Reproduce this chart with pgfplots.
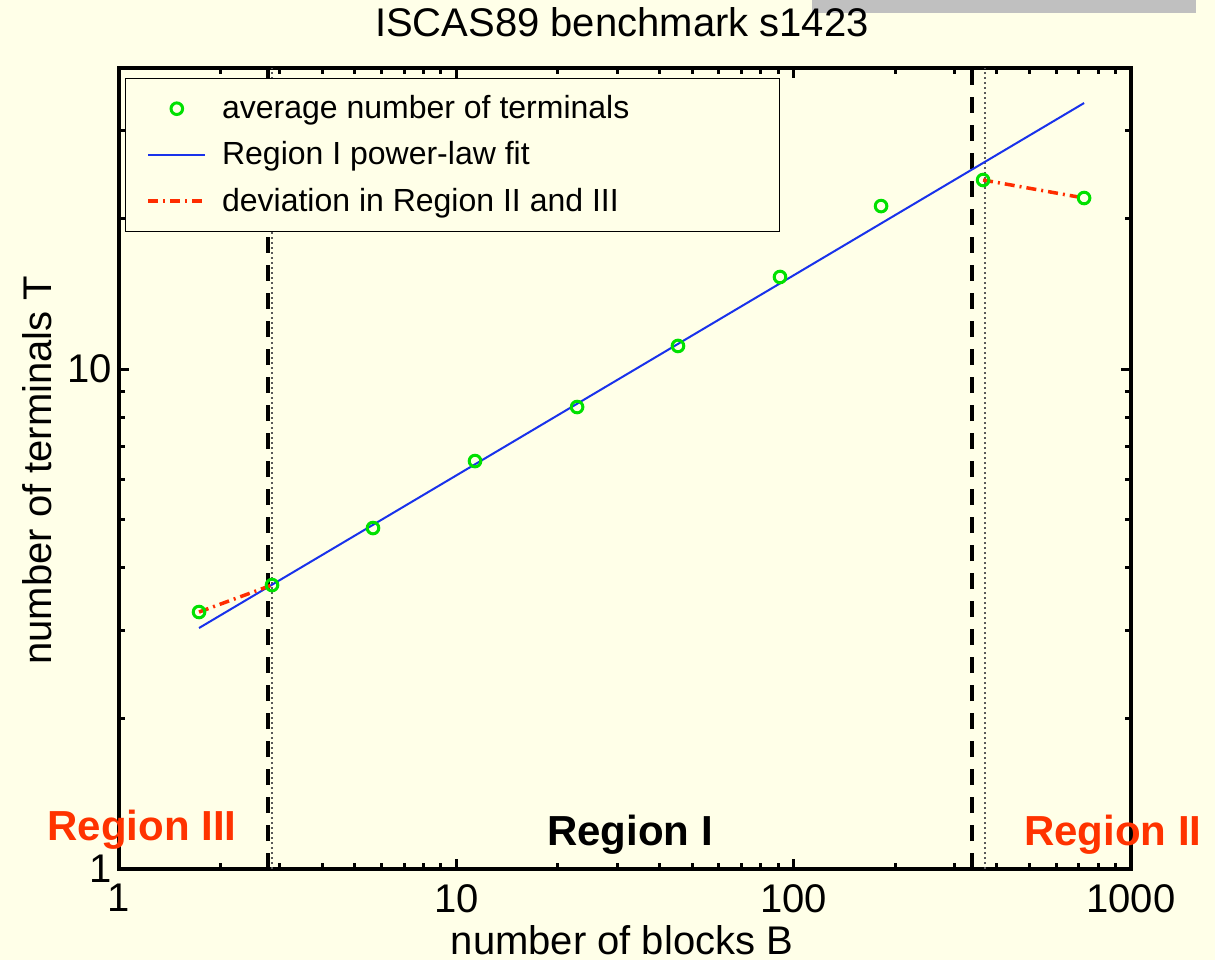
\documentclass[border=0pt]{standalone}
\usepackage{fontspec}
\setmainfont{Liberation Sans}
\usepackage{pgfplots}
\pgfplotsset{compat=1.18}
\definecolor{bgc}{RGB}{255,255,232}
\definecolor{graybar}{RGB}{192,192,192}
\definecolor{ptgreen}{RGB}{0,225,0}
\definecolor{fitblue}{RGB}{25,50,235}
\definecolor{devred}{RGB}{255,45,0}
\definecolor{regred}{RGB}{255,51,0}
\begin{document}
\begin{tikzpicture}[x=1pt,y=1pt]
\fill[bgc] (0,0) rectangle (607.5,480);
\fill[graybar] (406,473.5) rectangle (598,480);
\begin{axis}[
  at={(59.5pt,45.5pt)}, anchor=south west,
  scale only axis, width=506pt, height=400.5pt,
  xmode=log, ymode=log, xmin=1, xmax=1000, ymin=1, ymax=40,
  xtick={1,10,100,1000}, xticklabels={1,10,100,1000},
  ytick={1,10}, yticklabels={1,10},
  minor xtick={2,3,4,5,6,7,8,9,20,30,40,50,60,70,80,90,200,300,400,500,600,700,800,900},
  minor ytick={2,3,4,5,6,7,8,9,20,30},
  xtick pos=both, ytick pos=both,
  xticklabel pos=lower, yticklabel pos=left,
  tick align=inside,
  major tick length=5pt, minor tick length=3pt,
  every tick/.style={black, line width=1.5pt},
  axis line style={line width=2pt},
  tick label style={font=\fontsize{20}{24}\selectfont},
  xticklabel style={yshift=-4pt},
  /pgf/number format/assume math mode=true,
  every axis title shift=0pt,
  title={ISCAS89 benchmark s1423},
  title style={at={(axis description cs:0.497,1.0574)}, anchor=center, font=\fontsize{20}{24}\selectfont},
  xlabel={number of blocks B},
  xlabel style={at={(axis description cs:0.497,-0.0886)}, anchor=center, font=\fontsize{20}{24}\selectfont},
  ylabel={number of terminals T},
  ylabel style={at={(axis description cs:-0.081,0.498)}, anchor=center, font=\fontsize{20}{24}\selectfont},
  clip=false,
  legend image code/.code={\draw[mark repeat=2,mark phase=2,#1] plot coordinates {(0pt,0pt) (14.25pt,0pt) (28.5pt,0pt)};},
  legend style={at={(axis description cs:0.0059,0.9875)}, anchor=north west,
    draw=black, line width=0.6pt, fill=bgc,
    font=\fontsize{16}{19}\selectfont, row sep=6pt, column sep=5.5pt, inner xsep=10.5pt, inner ysep=6.5pt},
  legend cell align=left,
]
% legend entries
\addlegendimage{only marks, mark=o, mark size=2.9pt, mark options={draw=ptgreen, line width=1.5pt}}
\addlegendentry{average number of terminals\rule{62.5pt}{0pt}}
\addlegendimage{fitblue, line width=1pt}
\addlegendentry{Region I power-law fit}
\addlegendimage{devred, line width=1.75pt, dash pattern=on 5pt off 2.5pt on 1pt off 2.5pt}
\addlegendentry{deviation in Region II and III}

% vertical region boundaries
\addplot[forget plot, black, line width=2pt, dash pattern=on 8pt off 6pt] coordinates {(2.766,1) (2.766,40)};
\addplot[forget plot, black!65, line width=1.2pt, dash pattern=on 1pt off 1.5pt] coordinates {(2.842,1) (2.842,40)};
\addplot[forget plot, black, line width=2pt, dash pattern=on 8pt off 6pt] coordinates {(338,1) (338,40)};
\addplot[forget plot, black!65, line width=1.2pt, dash pattern=on 1pt off 1.5pt] coordinates {(369,1) (369,40)};

% power-law fit
\addplot[forget plot, fitblue, line width=1pt] coordinates {(1.727,3.034) (726,34.04)};

% deviations
\addplot[forget plot, devred, line width=1.75pt, dash pattern=on 5pt off 2.5pt on 1pt off 2.5pt] coordinates {(1.727,3.266) (2.842,3.698)};
\addplot[forget plot, devred, line width=1.75pt, dash pattern=on 5pt off 2.5pt on 1pt off 2.5pt] coordinates {(364.4,23.88) (726,21.98)};

% data points
\addplot[forget plot, only marks, mark=o, mark size=2.9pt, mark options={draw=ptgreen, line width=1.5pt}] coordinates {
(1.727,3.266) (2.842,3.698) (5.662,4.808) (11.36,6.546) (22.8,8.395)
(45.4,11.12) (91.1,15.28) (181.6,21.18) (364.4,23.88) (726,21.98)};

\node[font=\bfseries\fontsize{21}{25}\selectfont, text=regred] at (axis description cs:0.0227,0.049) {Region III};
\node[font=\bfseries\fontsize{21}{25}\selectfont, text=black] at (axis description cs:0.505,0.043) {Region I};
\node[font=\bfseries\fontsize{21}{25}\selectfont, text=regred] at (axis description cs:0.982,0.043) {Region II};
\end{axis}
\pgfresetboundingbox
\useasboundingbox (0,0) rectangle (607.5,480);
\end{tikzpicture}
\end{document}
